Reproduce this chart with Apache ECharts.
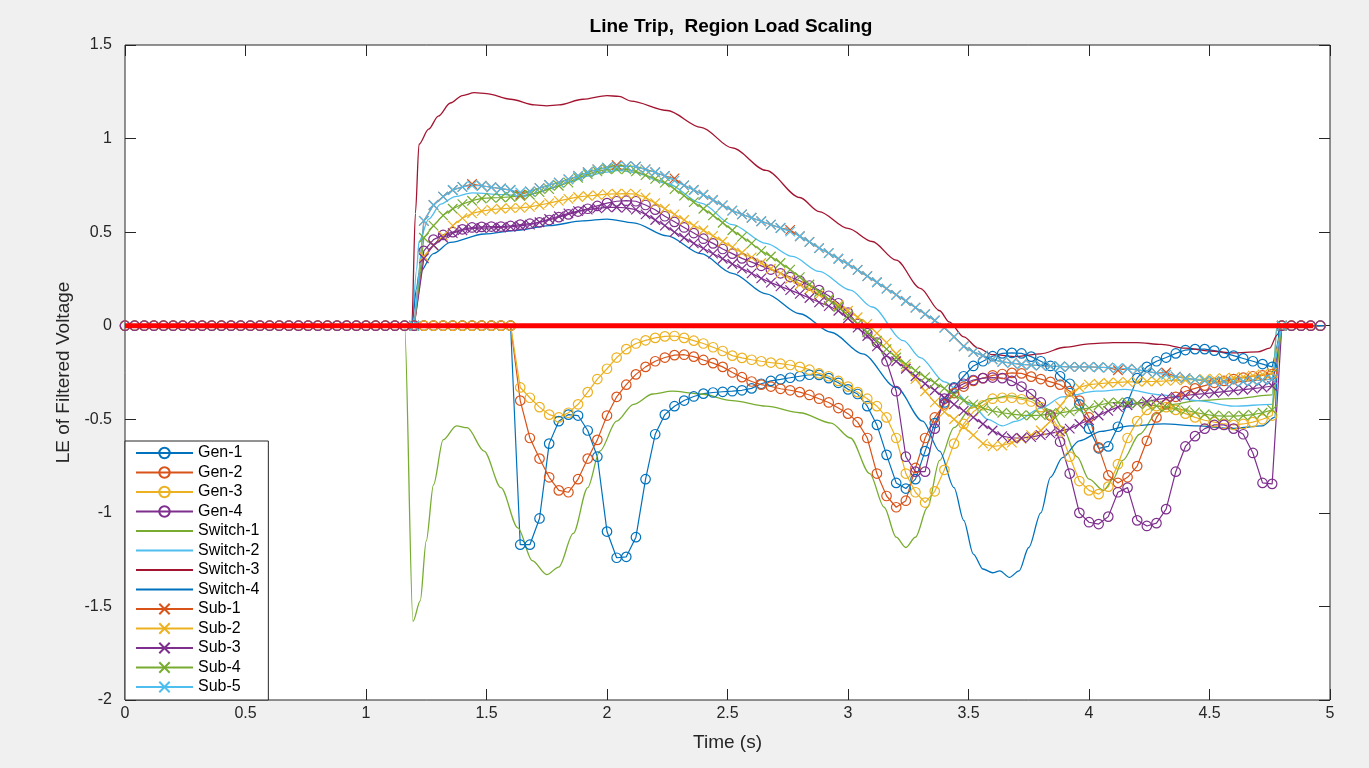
<!DOCTYPE html>
<html>
<head>
<meta charset="utf-8">
<script src="https://cdn.jsdelivr.net/npm/echarts@6/dist/echarts.min.js"></script>
<style>
  html, body { margin: 0; padding: 0; background: #f0f0f0; }
  #chart { width: 1369px; height: 768px; }
</style>
</head>
<body>
<div id="chart"></div>
<script>
// Sample clock shared by the marker traces (s)
const time = [
  0,0.04,0.08,0.12,0.16,0.2,0.24,0.28,0.32,0.36,
  0.4,0.44,0.48,0.52,0.56,0.6,0.64,0.68,0.72,0.76,
  0.8,0.84,0.88,0.92,0.96,1,1.04,1.08,1.12,1.16,
  1.2,1.24,1.28,1.32,1.36,1.4,1.44,1.48,1.52,1.56,
  1.6,1.64,1.68,1.72,1.76,1.8,1.84,1.88,1.92,1.96,
  2,2.04,2.08,2.12,2.16,2.2,2.24,2.28,2.32,2.36,
  2.4,2.44,2.48,2.52,2.56,2.6,2.64,2.68,2.72,2.76,
  2.8,2.84,2.88,2.92,2.96,3,3.04,3.08,3.12,3.16,
  3.2,3.24,3.28,3.32,3.36,3.4,3.44,3.48,3.52,3.56,
  3.6,3.64,3.68,3.72,3.76,3.8,3.84,3.88,3.92,3.96,
  4,4.04,4.08,4.12,4.16,4.2,4.24,4.28,4.32,4.36,
  4.4,4.44,4.48,4.52,4.56,4.6,4.64,4.68,4.72,4.76,
  4.8,4.84,4.88,4.92,4.96
];
// Substation traces start at t = 1.20 s (index 30 of the clock)
const SUB_START = 30;

// Generator buses (full clock)
const gen1 = [
  0,0,0,0,0,0,0,0,0,0, 0,0,0,0,0,0,0,0,0,0, 0,0,0,0,0,0,0,0,0,0,
  0,0,0,0,0,0,0,0,0,0,0,
  -1.17,-1.17,-1.03,-0.63,-0.51,-0.475,-0.48,-0.56,-0.70,-1.10,
  -1.24,-1.235,-1.13,-0.82,-0.58,-0.475,-0.43,-0.40,-0.378,-0.363,
  -0.357,-0.353,-0.35,-0.345,-0.335,-0.31,-0.295,-0.287,-0.278,-0.27,
  -0.262,-0.263,-0.28,-0.305,-0.34,-0.365,-0.43,-0.53,-0.69,-0.84,
  -0.87,-0.82,-0.67,-0.52,-0.41,-0.33,-0.27,-0.215,-0.19,-0.163,
  -0.148,-0.145,-0.148,-0.165,-0.19,-0.215,-0.27,-0.31,-0.42,-0.55,
  -0.655,-0.645,-0.54,-0.41,-0.28,-0.22,-0.19,-0.17,-0.148,-0.13,
  -0.125,-0.125,-0.133,-0.145,-0.16,-0.175,-0.19,-0.205,-0.22,
  0,0,0,0,0
];
const gen2 = [
  0,0,0,0,0,0,0,0,0,0, 0,0,0,0,0,0,0,0,0,0, 0,0,0,0,0,0,0,0,0,0,
  0,0,0,0,0,0,0,0,0,0,0,
  -0.40,-0.60,-0.71,-0.81,-0.88,-0.89,-0.82,-0.71,-0.61,-0.48,
  -0.38,-0.315,-0.26,-0.22,-0.19,-0.17,-0.157,-0.155,-0.165,-0.183,
  -0.20,-0.22,-0.25,-0.275,-0.298,-0.315,-0.325,-0.337,-0.345,-0.355,
  -0.37,-0.39,-0.41,-0.44,-0.47,-0.515,-0.60,-0.79,-0.91,-0.97,
  -0.935,-0.76,-0.60,-0.49,-0.42,-0.36,-0.325,-0.295,-0.28,-0.265,
  -0.258,-0.252,-0.255,-0.272,-0.285,-0.30,-0.315,-0.35,-0.40,-0.49,
  -0.65,-0.80,-0.84,-0.81,-0.75,-0.615,-0.49,-0.42,-0.38,-0.35,
  -0.335,-0.32,-0.305,-0.295,-0.285,-0.277,-0.27,-0.265,-0.258,
  0,0,0,0,0
];
const gen3 = [
  0,0,0,0,0,0,0,0,0,0, 0,0,0,0,0,0,0,0,0,0, 0,0,0,0,0,0,0,0,0,0,
  0,0,0,0,0,0,0,0,0,0,0,
  -0.33,-0.385,-0.435,-0.475,-0.49,-0.465,-0.42,-0.355,-0.285,-0.23,
  -0.17,-0.125,-0.095,-0.078,-0.065,-0.057,-0.055,-0.065,-0.08,-0.095,
  -0.115,-0.135,-0.16,-0.172,-0.182,-0.19,-0.197,-0.203,-0.21,-0.22,
  -0.235,-0.255,-0.27,-0.295,-0.325,-0.355,-0.39,-0.43,-0.49,-0.60,
  -0.79,-0.89,-0.945,-0.885,-0.77,-0.63,-0.525,-0.46,-0.425,-0.39,
  -0.385,-0.385,-0.393,-0.405,-0.435,-0.48,-0.56,-0.70,-0.83,-0.88,
  -0.90,-0.86,-0.74,-0.60,-0.51,-0.45,-0.43,-0.435,-0.45,-0.47,
  -0.49,-0.505,-0.515,-0.525,-0.53,-0.525,-0.515,-0.50,-0.48,
  0,0,0,0,0
];
const gen4 = [
  0,0,0,0,0,0,0,0,0,0, 0,0,0,0,0,0,0,0,0,0, 0,0,0,0,0,0,0,0,0,0,
  0,
  0.40,0.46,0.485,0.50,0.515,0.525,0.528,0.53,0.53,
  0.533,0.54,0.545,0.552,0.565,0.58,0.595,0.61,0.625,0.64,
  0.655,0.665,0.668,0.665,0.645,0.62,0.585,0.555,0.525,0.495,
  0.465,0.44,0.41,0.385,0.36,0.34,0.32,0.30,0.28,0.26,
  0.24,0.215,0.19,0.16,0.12,0.07,0.01,-0.04,-0.09,-0.19,
  -0.35,-0.70,-0.78,-0.78,-0.55,-0.39,-0.335,-0.31,-0.29,-0.28,
  -0.277,-0.28,-0.295,-0.325,-0.365,-0.41,-0.48,-0.62,-0.79,-1.00,
  -1.05,-1.06,-1.02,-0.89,-0.865,-1.04,-1.07,-1.055,-0.98,-0.78,
  -0.645,-0.59,-0.55,-0.53,-0.53,-0.55,-0.58,-0.68,-0.84,-0.845,
  0,0,0,0,0
];

// Substations (t = 1.20 ... 4.80 s)
const sub5 = [
  0,0.56,0.645,0.69,0.725,0.742,0.75,0.748,0.74,0.733,
  0.725,0.712,0.718,0.735,0.752,0.765,0.782,0.80,0.82,0.835,
  0.845,0.85,0.853,0.85,0.835,0.82,0.80,0.775,0.75,0.725,
  0.70,0.672,0.643,0.615,0.595,0.577,0.558,0.54,0.522,0.503,
  0.478,0.448,0.415,0.388,0.358,0.33,0.298,0.265,0.232,0.198,
  0.165,0.132,0.097,0.062,0.028,-0.01,-0.06,-0.11,-0.14,-0.16,
  -0.18,-0.193,-0.20,-0.207,-0.21,-0.213,-0.216,-0.218,-0.22,-0.22,
  -0.22,-0.222,-0.224,-0.226,-0.23,-0.236,-0.244,-0.253,-0.262,-0.272,
  -0.28,-0.288,-0.293,-0.297,-0.30,-0.30,-0.298,-0.294,-0.29,-0.285,
  0
];
const sub1 = [
  0,0.56,0.645,0.69,0.725,0.742,0.757,0.748,0.74,0.733,
  0.725,0.70,0.718,0.735,0.752,0.765,0.782,0.80,0.82,0.835,
  0.845,0.858,0.853,0.85,0.835,0.82,0.80,0.787,0.75,0.725,
  0.70,0.672,0.643,0.615,0.595,0.577,0.558,0.54,0.522,0.512,
  0.478,0.448,0.415,0.388,0.358,0.33,0.298,0.265,0.232,0.198,
  0.165,0.132,0.097,0.062,0.028,-0.01,-0.06,-0.11,-0.14,-0.16,
  -0.18,-0.193,-0.20,-0.207,-0.21,-0.213,-0.216,-0.218,-0.22,-0.22,
  -0.22,-0.222,-0.224,-0.238,-0.23,-0.236,-0.244,-0.253,-0.25,-0.272,
  -0.28,-0.288,-0.293,-0.297,-0.30,-0.30,-0.298,-0.294,-0.29,-0.285,
  0
];
const sub2 = [
  0,0.37,0.43,0.48,0.535,0.575,0.60,0.612,0.62,0.625,
  0.628,0.63,0.635,0.645,0.655,0.667,0.678,0.688,0.693,0.698,
  0.703,0.705,0.706,0.703,0.685,0.655,0.625,0.595,0.565,0.535,
  0.51,0.48,0.45,0.42,0.39,0.365,0.335,0.305,0.28,0.25,
  0.22,0.195,0.165,0.14,0.11,0.08,0.045,0.01,-0.04,-0.09,
  -0.15,-0.22,-0.285,-0.35,-0.41,-0.46,-0.50,-0.54,-0.585,-0.63,
  -0.645,-0.64,-0.625,-0.605,-0.585,-0.56,-0.51,-0.43,-0.365,-0.33,
  -0.315,-0.31,-0.305,-0.303,-0.30,-0.30,-0.298,-0.297,-0.295,-0.292,
  -0.29,-0.288,-0.285,-0.283,-0.28,-0.278,-0.273,-0.267,-0.26,-0.252,
  0
];
const sub3 = [
  0,0.36,0.43,0.47,0.495,0.51,0.52,0.522,0.523,0.525,
  0.528,0.533,0.54,0.553,0.57,0.585,0.60,0.612,0.62,0.627,
  0.632,0.633,0.63,0.62,0.595,0.565,0.535,0.50,0.47,0.44,
  0.413,0.385,0.358,0.33,0.305,0.28,0.253,0.23,0.21,0.19,
  0.17,0.148,0.125,0.105,0.08,0.04,-0.01,-0.055,-0.11,-0.16,
  -0.19,-0.23,-0.27,-0.31,-0.345,-0.385,-0.42,-0.455,-0.49,-0.525,
  -0.56,-0.59,-0.60,-0.60,-0.595,-0.585,-0.575,-0.565,-0.55,-0.525,
  -0.505,-0.48,-0.455,-0.435,-0.425,-0.415,-0.405,-0.395,-0.387,-0.38,
  -0.373,-0.367,-0.363,-0.358,-0.352,-0.347,-0.342,-0.336,-0.33,-0.322,
  0
];
const sub4 = [
  0,0.47,0.535,0.59,0.625,0.65,0.668,0.68,0.683,0.685,
  0.688,0.693,0.70,0.714,0.73,0.748,0.765,0.79,0.81,0.825,
  0.835,0.838,0.835,0.825,0.805,0.785,0.765,0.73,0.695,0.66,
  0.625,0.59,0.55,0.51,0.475,0.44,0.40,0.37,0.335,0.30,
  0.26,0.22,0.18,0.14,0.10,0.055,0.01,-0.035,-0.08,-0.125,
  -0.17,-0.205,-0.24,-0.275,-0.305,-0.335,-0.37,-0.40,-0.42,-0.44,
  -0.455,-0.465,-0.472,-0.478,-0.48,-0.478,-0.472,-0.466,-0.458,-0.448,
  -0.44,-0.425,-0.413,-0.41,-0.412,-0.415,-0.42,-0.428,-0.435,-0.442,
  -0.452,-0.463,-0.473,-0.48,-0.483,-0.483,-0.48,-0.475,-0.465,-0.45,
  0
];

// Switching stations: [time (s), value] pairs
const switch1 = [
  [0,0],[1.16,0],[1.195,-1.58],[1.225,-1.47],[1.25,-1.15],[1.28,-0.85],[1.32,-0.61],
  [1.375,-0.535],[1.42,-0.545],[1.49,-0.67],[1.56,-0.865],[1.63,-1.08],[1.69,-1.255],
  [1.75,-1.33],[1.80,-1.29],[1.86,-1.11],[1.92,-0.865],[1.97,-0.67],[2.04,-0.51],
  [2.11,-0.42],[2.19,-0.365],[2.27,-0.35],[2.39,-0.365],[2.52,-0.40],[2.66,-0.43],
  [2.80,-0.465],[2.93,-0.52],[3.01,-0.60],[3.09,-0.79],[3.15,-0.97],[3.20,-1.13],
  [3.24,-1.185],[3.28,-1.13],[3.33,-0.97],[3.38,-0.72],[3.44,-0.545],[3.51,-0.44],
  [3.59,-0.39],[3.67,-0.375],[3.75,-0.39],[3.84,-0.45],[3.89,-0.545],[3.95,-0.70],
  [4.00,-0.82],[4.06,-0.88],[4.10,-0.82],[4.14,-0.72],[4.21,-0.58],[4.28,-0.47],
  [4.35,-0.42],[4.45,-0.40],[4.60,-0.39],[4.76,-0.37],[4.78,0],[4.98,0]
];
const switch2 = [
  [0,0],[1.19,0],[1.21,0.30],[1.22,0.45],[1.26,0.57],[1.31,0.65],[1.37,0.69],[1.44,0.71],
  [1.58,0.70],[1.65,0.69],[1.71,0.71],[1.78,0.74],[1.85,0.77],[1.92,0.80],[1.99,0.82],
  [2.05,0.83],[2.11,0.82],[2.25,0.76],[2.39,0.655],[2.52,0.54],[2.66,0.44],[2.77,0.37],
  [2.88,0.29],[3.01,0.19],[3.10,0.10],[3.23,-0.08],[3.30,-0.17],[3.40,-0.30],[3.52,-0.43],
  [3.58,-0.50],[3.64,-0.535],[3.70,-0.51],[3.80,-0.44],[3.89,-0.38],[4.03,-0.35],
  [4.15,-0.34],[4.30,-0.37],[4.45,-0.40],[4.60,-0.43],[4.76,-0.42],[4.78,0],[4.98,0]
];
const switch3 = [
  [0,0],[1.19,0],[1.205,0.60],[1.22,0.97],[1.26,1.05],[1.30,1.12],[1.35,1.19],[1.40,1.23],
  [1.45,1.245],[1.50,1.24],[1.60,1.21],[1.70,1.18],[1.75,1.175],[1.80,1.18],[1.90,1.21],
  [2.00,1.23],[2.05,1.225],[2.10,1.20],[2.25,1.15],[2.39,1.06],[2.52,0.95],[2.66,0.83],
  [2.80,0.685],[2.88,0.61],[3.00,0.52],[3.10,0.45],[3.20,0.35],[3.30,0.20],[3.38,0.08],
  [3.42,0.02],[3.48,-0.06],[3.54,-0.12],[3.60,-0.155],[3.70,-0.165],[3.80,-0.15],
  [3.90,-0.115],[4.00,-0.097],[4.10,-0.09],[4.20,-0.09],[4.30,-0.10],[4.40,-0.12],
  [4.50,-0.135],[4.60,-0.145],[4.70,-0.14],[4.75,-0.12],[4.78,-0.05],[4.80,0],[4.98,0]
];
const switch4 = [
  [0,0],[1.19,0],[1.21,0.20],[1.22,0.28],[1.28,0.385],[1.35,0.445],[1.49,0.49],[1.63,0.51],
  [1.76,0.535],[1.90,0.56],[2.00,0.57],[2.11,0.55],[2.25,0.48],[2.39,0.385],[2.52,0.28],
  [2.66,0.17],[2.80,0.064],[2.93,-0.035],[3.06,-0.15],[3.20,-0.33],[3.31,-0.51],
  [3.38,-0.67],[3.44,-0.865],[3.48,-1.04],[3.52,-1.22],[3.56,-1.30],[3.60,-1.32],
  [3.63,-1.31],[3.67,-1.345],[3.71,-1.31],[3.75,-1.185],[3.80,-1.00],[3.84,-0.81],
  [3.89,-0.705],[3.96,-0.615],[4.05,-0.565],[4.17,-0.535],[4.31,-0.525],[4.45,-0.535],
  [4.59,-0.55],[4.72,-0.535],[4.77,-0.49],[4.79,0],[4.98,0]
];

// Zero reference line
const zeroLine = [[0, 0], [4.93, 0]];

const xTicks = { min: 0, max: 5, step: 0.5 };
const yTicks = { min: -2, max: 1.5, step: 0.5 };

const C = {
  blue: '#0072BD', orange: '#D95319', yellow: '#EDB120', purple: '#7E2F8E',
  green: '#77AC30', cyan: '#4DBEEE', maroon: '#A2142F'
};
const CROSS = 'path://M0,0L10,10M10,0L0,10';
const FONT = '"Liberation Sans", Arial, Helvetica, sans-serif';
const INK = '#262626';

function onClock(values, start) {
  return values.map((v, k) => [time[start + k], v]);
}

function markerSeries(name, color, symbol, data) {
  return {
    name, type: 'line', data,
    symbol, symbolSize: 9.5, showSymbol: true, showAllSymbol: true,
    lineStyle: { color, width: 1.2 },
    itemStyle: { color: 'rgba(0,0,0,0)', borderColor: color, borderWidth: 1.2 },
    emphasis: { disabled: true },
    z: 2
  };
}

function plainSeries(name, color, data) {
  return {
    name, type: 'line', data,
    symbol: 'none', smooth: 0.3, smoothMonotone: 'x',
    lineStyle: { color, width: 1.3 },
    itemStyle: { color: 'rgba(0,0,0,0)', borderWidth: 0 },
    emphasis: { disabled: true },
    z: 2
  };
}

const series = [
  markerSeries('Gen-1', C.blue, 'circle', onClock(gen1, 0)),
  markerSeries('Gen-2', C.orange, 'circle', onClock(gen2, 0)),
  markerSeries('Gen-3', C.yellow, 'circle', onClock(gen3, 0)),
  markerSeries('Gen-4', C.purple, 'circle', onClock(gen4, 0)),
  plainSeries('Switch-1', C.green, switch1),
  plainSeries('Switch-2', C.cyan, switch2),
  plainSeries('Switch-3', C.maroon, switch3),
  plainSeries('Switch-4', C.blue, switch4),
  markerSeries('Sub-1', C.orange, CROSS, onClock(sub1, SUB_START)),
  markerSeries('Sub-2', C.yellow, CROSS, onClock(sub2, SUB_START)),
  markerSeries('Sub-3', C.purple, CROSS, onClock(sub3, SUB_START)),
  markerSeries('Sub-4', C.green, CROSS, onClock(sub4, SUB_START)),
  markerSeries('Sub-5', C.cyan, CROSS, onClock(sub5, SUB_START)),
  {
    name: 'zero', type: 'line', data: zeroLine, symbol: 'none',
    lineStyle: { color: '#FF0000', width: 5 }, emphasis: { disabled: true },
    silent: true, z: 3
  }
];

const legendNames = ['Gen-1','Gen-2','Gen-3','Gen-4','Switch-1','Switch-2','Switch-3','Switch-4',
                     'Sub-1','Sub-2','Sub-3','Sub-4','Sub-5'];

function valueAxis(ticks, extra) {
  return Object.assign({
    type: 'value', min: ticks.min, max: ticks.max, interval: ticks.step,
    axisLine: { show: false, onZero: false },
    axisTick: { show: true, inside: true, length: 11, lineStyle: { color: INK, width: 1 } },
    axisLabel: { show: false },
    splitLine: { show: false }
  }, extra);
}

const chart = echarts.init(document.getElementById('chart'), null, { renderer: 'canvas' });
chart.setOption({
  animation: false,
  backgroundColor: '#f0f0f0',
  textStyle: { fontFamily: FONT },
  title: {
    text: 'Line Trip,  Region Load Scaling',
    left: 731, top: 17, textAlign: 'center', padding: 0,
    textStyle: { fontFamily: FONT, fontSize: 19, fontWeight: 'bold', color: '#000' }
  },
  grid: {
    left: 125, right: 39, top: 45, bottom: 68,
    show: true, backgroundColor: '#ffffff', borderColor: INK, borderWidth: 1
  },
  legend: {
    data: legendNames,
    orient: 'vertical', left: 125, bottom: 68,
    backgroundColor: '#ffffff', borderColor: INK, borderWidth: 1, borderRadius: 0,
    padding: [4, 9, 5, 10],
    itemWidth: 57, itemHeight: 13, itemGap: 3.5,
    selectedMode: false,
    textStyle: { fontFamily: FONT, fontSize: 16, color: '#000' }
  },
  xAxis: [
    valueAxis(xTicks, {
      position: 'bottom',
      name: 'Time (s)', nameLocation: 'middle', nameGap: 33,
      nameTextStyle: { fontFamily: FONT, fontSize: 19, color: INK },
      axisLabel: { show: true, color: INK, fontSize: 16, margin: 6, fontFamily: FONT }
    }),
    valueAxis(xTicks, { position: 'top' })
  ],
  yAxis: [
    valueAxis(yTicks, {
      position: 'left',
      name: 'LE of Filtered Voltage', nameLocation: 'middle', nameGap: 45, nameRotate: 90,
      nameTextStyle: { fontFamily: FONT, fontSize: 19, color: INK },
      axisLabel: { show: true, color: INK, fontSize: 16, margin: 13, fontFamily: FONT }
    }),
    valueAxis(yTicks, { position: 'right' })
  ],
  series
});
</script>
</body>
</html>
